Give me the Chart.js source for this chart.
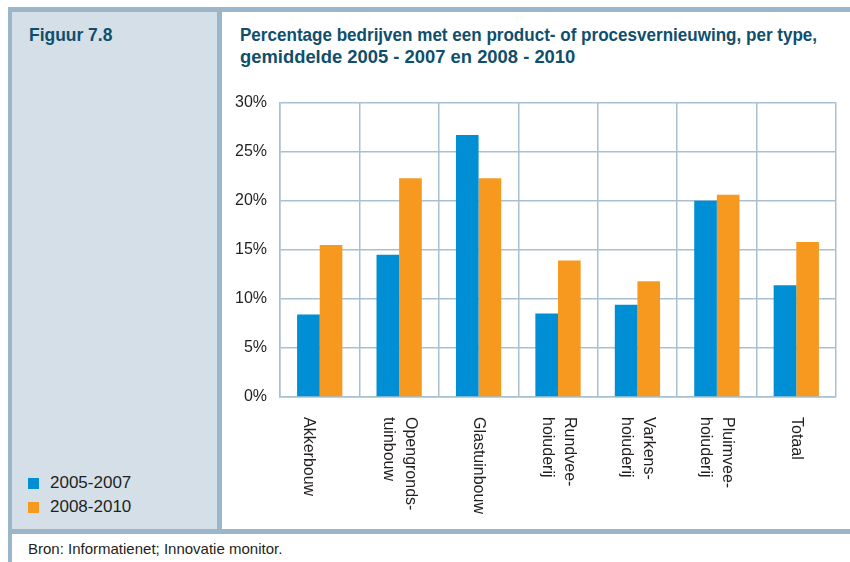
<!DOCTYPE html>
<html>
<head>
<meta charset="utf-8">
<script src="https://cdn.jsdelivr.net/npm/chart.js@4"></script>
<style>
  html, body { margin: 0; padding: 0; }
  body { width: 850px; height: 562px; overflow: hidden; background: #ffffff; position: relative;
         font-family: "Liberation Sans", Arial, sans-serif; }
  .b { position: absolute; background: #9cb6c9; }
  .panel { position: absolute; left: 12px; top: 12px; width: 205px; height: 517px; background: #d5dfe8; }
  .t { position: absolute; white-space: nowrap; color: #0f4f6d; font-weight: bold; font-size: 18.5px; line-height: 22px; transform-origin: 0 0; }
  .leg { position: absolute; left: 28px; font-size: 17px; line-height: 20px; color: #231f20; white-space: nowrap; }
  .sq { position: absolute; left: 28px; width: 11px; height: 11px; }
  .src { position: absolute; left: 28px; top: 540px; font-size: 15px; line-height: 18px; color: #231f20; white-space: nowrap; }
  #wrap { position: absolute; left: 222px; top: 80px; width: 628px; height: 449px; }
</style>
</head>
<body>
<div class="panel"></div>
<div class="b" style="left:8px;top:7px;width:842px;height:5px;"></div>
<div class="b" style="left:8px;top:7px;width:4px;height:555px;"></div>
<div class="b" style="left:217px;top:7px;width:5px;height:527px;"></div>
<div class="b" style="left:8px;top:529px;width:842px;height:5px;"></div>

<div class="t" id="fig" style="left:29px;top:24px;">Figuur 7.8</div>
<div class="t" id="t1" style="left:240px;top:24px;">Percentage bedrijven met een product- of procesvernieuwing, per type,</div>
<div class="t" id="t2" style="left:240px;top:46px;">gemiddelde 2005 - 2007 en 2008 - 2010</div>

<div class="sq" style="top:478px;background:#008fd5;"></div>
<div class="leg" id="l1" style="left:50px;top:473px;"></div>
<div class="sq" style="top:502px;background:#f7981f;"></div>
<div class="leg" id="l2" style="left:50px;top:497px;"></div>

<div class="src">Bron: Informatienet; Innovatie monitor.</div>

<div id="wrap"><canvas id="c"></canvas></div>

<script>
// ---- data ----
const categories = [["", "Akkerbouw"], ["Opengronds-", "tuinbouw"], ["Glastuinbouw"], ["Rundvee-", "hoiuderij"], ["Varkens-", "hoiuderij"], ["Pluimvee-", "hoiuderij"], ["Totaal"]];
const seriesNames = ["2005-2007", "2008-2010"];
const values2005_2007 = [8.4, 14.5, 26.7, 8.5, 9.4, 20.0, 11.4];
const values2008_2010 = [15.5, 22.3, 22.3, 13.9, 11.8, 20.6, 15.8];
const yTicks = [0, 5, 10, 15, 20, 25, 30];

// ---- text fitting for condensed title font ----
function fit(id, w) {
  const el = document.getElementById(id);
  const s = w / el.offsetWidth;
  el.style.transform = 'scaleX(' + s + ')';
}
fit('fig', 83);
fit('t1', 577);
fit('t2', 335);
document.getElementById('l1').textContent = seriesNames[0];
document.getElementById('l2').textContent = seriesNames[1];

const gridColor = '#a9c0d2';
const textColor = '#231f20';
const FONT = '"Liberation Sans", Arial, sans-serif';

const xLabelPlugin = {
  id: 'xLabels',
  afterDraw(chart) {
    const ctx = chart.ctx;
    const xs = chart.scales.x;
    const top = chart.chartArea.bottom + 20;
    const lh = 22;
    ctx.save();
    ctx.font = '16px ' + FONT;
    ctx.fillStyle = textColor;
    ctx.textAlign = 'left';
    ctx.textBaseline = 'middle';
    categories.forEach((lab, i) => {
      const x = xs.getPixelForValue(i);
      const n = lab.length;
      lab.forEach((line, j) => {
        ctx.save();
        ctx.translate(x, top);
        ctx.rotate(Math.PI / 2);
        ctx.fillText(line, 0, (j - (n - 1) / 2) * lh);
        ctx.restore();
      });
    });
    ctx.restore();
  }
};

new Chart(document.getElementById('c'), {
  type: 'bar',
  data: {
    labels: categories.map(c => c.join(' ').trim()),
    datasets: [
      { label: seriesNames[0], data: values2005_2007, backgroundColor: '#008fd5', borderWidth: 0,
        categoryPercentage: 0.57, barPercentage: 1.0 },
      { label: seriesNames[1], data: values2008_2010, backgroundColor: '#f7981f', borderWidth: 0,
        categoryPercentage: 0.57, barPercentage: 1.0 }
    ]
  },
  options: {
    responsive: true,
    maintainAspectRatio: false,
    animation: false,
    events: [],
    layout: { padding: { top: 18.5, right: 14, bottom: 132, left: 0 } },
    plugins: { legend: { display: false }, tooltip: { enabled: false }, title: { display: false } },
    scales: {
      x: {
        offset: true,
        ticks: { display: false },
        grid: { display: true, offset: true, color: gridColor, lineWidth: 1.5, drawTicks: false },
        border: { display: true, color: gridColor, width: 1.5 }
      },
      y: {
        min: 0, max: 30,
        afterFit(scale) { scale.width = 58; },
        afterBuildTicks(scale) { scale.ticks = yTicks.map(v => ({ value: v })); },
        ticks: { padding: 13, color: textColor, font: { family: FONT, size: 16 },
                 callback: v => v + '%' },
        grid: { color: gridColor, lineWidth: 1.5, drawTicks: false },
        border: { display: true, color: gridColor, width: 1.5 }
      }
    }
  },
  plugins: [xLabelPlugin]
});
</script>
</body>
</html>
